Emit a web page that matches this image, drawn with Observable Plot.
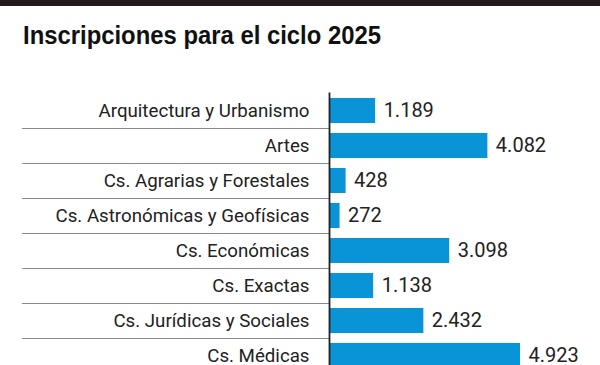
<!DOCTYPE html>
<html>
<head>
<meta charset="utf-8">
<script src="https://cdn.jsdelivr.net/npm/d3@7"></script>
<script src="https://cdn.jsdelivr.net/npm/@observablehq/plot@0.6"></script>
<style>
  html, body { margin: 0; padding: 0; background: #fff; width: 600px; height: 365px; overflow: hidden; }
  #topbar { position: absolute; left: 0; top: 0; width: 600px; height: 6px; background: #221a18; }
  #title { position: absolute; left: 23px; top: 19px; margin: 0; font-family: "Liberation Sans", Arial, sans-serif; font-weight: bold; font-size: 26px; color: #111; line-height: 32px; white-space: nowrap; transform-origin: 0 0; }
  #chart { position: absolute; left: 0; top: 60px; }
</style>
</head>
<body>
<div id="topbar"></div>
<h1 id="title">Inscripciones para el ciclo 2025</h1>
<div id="chart"></div>
<script>
const categories = [
  "Arquitectura y Urbanismo",
  "Artes",
  "Cs. Agrarias y Forestales",
  "Cs. Astronómicas y Geofísicas",
  "Cs. Económicas",
  "Cs. Exactas",
  "Cs. Jurídicas y Sociales",
  "Cs. Médicas"
];
const values = [1189, 4082, 428, 272, 3098, 1138, 2432, 4923];
const valueLabels = ["1.189", "4.082", "428", "272", "3.098", "1.138", "2.432", "4.923"];

const data = categories.map((c, i) => ({category: c, value: values[i], label: valueLabels[i]}));

// condense the title to the reference's width
const title = document.getElementById("title");
const tw = title.getBoundingClientRect().width;
title.style.transform = `scaleX(${358 / tw})`;

const font = "Roboto, 'Liberation Sans', sans-serif";

const chart = Plot.plot({
  width: 600,
  height: 340,
  marginLeft: 329,
  marginRight: 80,
  marginTop: 32.5,
  marginBottom: 27.5,
  style: {fontFamily: font, background: "transparent", overflow: "visible"},
  x: {domain: [0, d3.max(values)], axis: null},
  y: {domain: categories, paddingInner: 0.286, paddingOuter: 0.143, axis: null},
  marks: [
    Plot.ruleY(categories.slice(1), {y: d => d, x2: 0, dy: -17.5, insetLeft: -307, stroke: "#8a8a8a", strokeWidth: 1.2}),
    Plot.barX(data, {y: "category", x: "value", fill: "#0a94d8"}),
    Plot.ruleX([0], {stroke: "#222", strokeWidth: 1.8}),
    Plot.text(data, {y: "category", x: 0, text: "category", textAnchor: "end", dx: -20, fontSize: 18.7, fill: "#222"}),
    Plot.text(data, {y: "category", x: "value", text: "label", textAnchor: "start", dx: 8, fontSize: 20, fill: "#222"})
  ]
});
document.getElementById("chart").appendChild(chart);
</script>
</body>
</html>
